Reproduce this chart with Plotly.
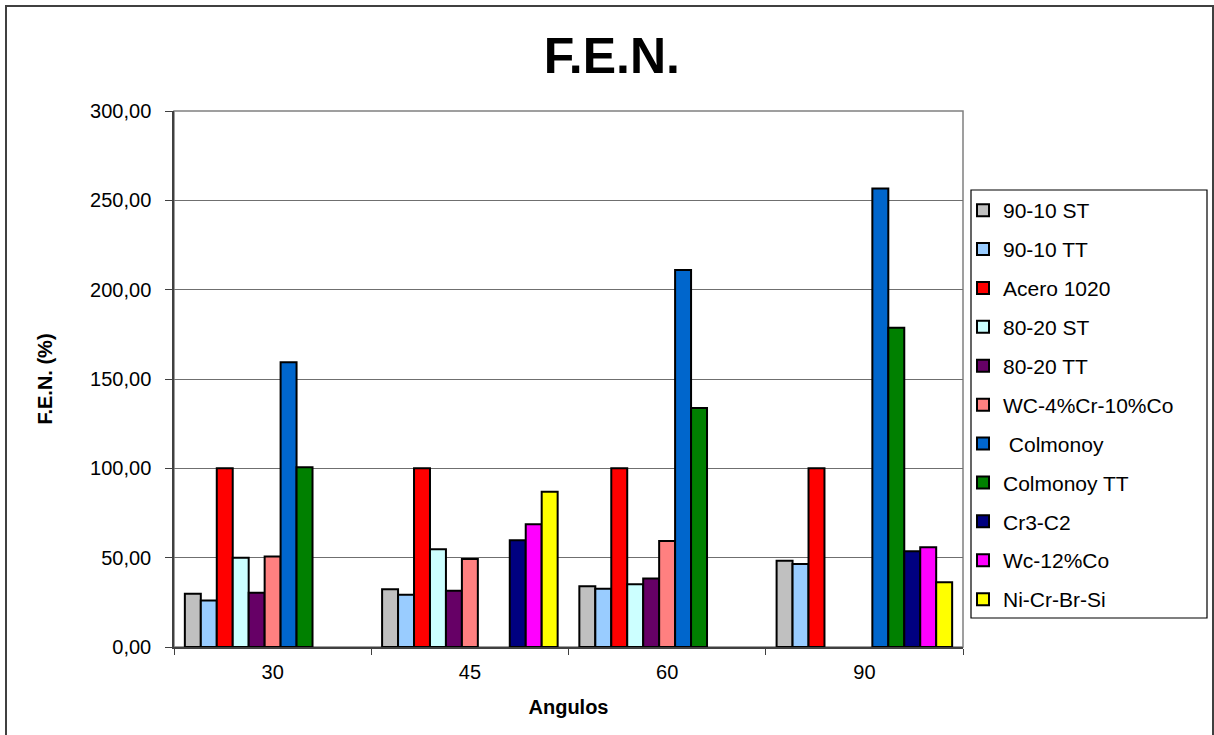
import plotly.graph_objects as go

# Angles tested (x categories)
angulos = ["30", "45", "60", "90"]

# F.E.N. (%) per material and angle; None = not measured
fen_90_10_st = [29.8, 32.3, 34.0, 48.3]
fen_90_10_tt = [26.0, 29.3, 32.6, 46.4]
fen_acero_1020 = [100.0, 100.0, 100.0, 100.0]
fen_80_20_st = [50.0, 54.7, 35.1, None]
fen_80_20_tt = [30.4, 31.5, 38.4, None]
fen_wc_4cr_10co = [50.6, 49.2, 59.3, None]
fen_colmonoy = [159.4, None, 211.0, 256.6]
fen_colmonoy_tt = [100.6, None, 133.8, 178.7]
fen_cr3_c2 = [None, 59.7, None, 53.6]
fen_wc_12co = [None, 68.7, None, 55.8]
fen_ni_cr_br_si = [None, 86.9, None, 36.3]

series = [
    ("90-10 ST", fen_90_10_st, "#C0C0C0"),
    ("90-10 TT", fen_90_10_tt, "#99CCFF"),
    ("Acero 1020", fen_acero_1020, "#FF0000"),
    ("80-20 ST", fen_80_20_st, "#CCFFFF"),
    ("80-20 TT", fen_80_20_tt, "#660066"),
    ("WC-4%Cr-10%Co", fen_wc_4cr_10co, "#FF8080"),
    (" Colmonoy", fen_colmonoy, "#0066CC"),
    ("Colmonoy TT", fen_colmonoy_tt, "#008000"),
    ("Cr3-C2", fen_cr3_c2, "#000080"),
    ("Wc-12%Co", fen_wc_12co, "#FF00FF"),
    ("Ni-Cr-Br-Si", fen_ni_cr_br_si, "#FFFF00"),
]

FONT = "Liberation Sans, Arial, sans-serif"

# page geometry (px)
W, H = 1214, 735
ML, MR, MT, MB = 174, 251, 111, 88
PW = W - ML - MR
PH = H - MT - MB


def px_x(p):
    return (p - ML) / PW


def px_y(p):
    return (H - MB - p) / PH


fig = go.Figure()
for i, (name, vals, color) in enumerate(series):
    fig.add_trace(go.Bar(
        x=angulos, y=vals, name=name, legendgroup=f"g{i}",
        marker=dict(color=color, line=dict(color="black", width=2)),
    ))

shapes = [
    # plot area frame
    dict(type="rect", xref="paper", yref="paper", x0=0, x1=1, y0=0, y1=1,
         line=dict(color="#808080", width=1.5), layer="below"),
    # outer chart border
    dict(type="rect", xref="paper", yref="paper",
         x0=px_x(6), x1=px_x(1213), y0=px_y(740), y1=px_y(6),
         line=dict(color="#404040", width=2)),
    # legend box
    dict(type="rect", xref="paper", yref="paper",
         x0=px_x(971), x1=px_x(1207), y0=px_y(618), y1=px_y(190),
         line=dict(color="black", width=1.2)),
]

fig.update_layout(
    width=W, height=H,
    margin=dict(l=ML, r=MR, t=MT, b=MB, pad=0),
    paper_bgcolor="white", plot_bgcolor="white",
    separators=",.",
    barmode="group", bargap=0.11, bargroupgap=0,
    font=dict(family=FONT, color="black", size=20),
    title=dict(text="<b>F.E.N.</b>", x=0.504, xanchor="center",
               y=1 - 55 / H, yanchor="middle", yref="container",
               font=dict(size=50, family=FONT, color="black")),
    xaxis=dict(
        type="category", showgrid=False,
        showline=True, linecolor="#404040", linewidth=1.5,
        ticks="outside", tickson="boundaries", ticklen=6, tickcolor="#404040",
        ticklabelstandoff=6,
        tickfont=dict(size=20, family=FONT),
        title=dict(text="<b>Angulos</b>", font=dict(size=20, family=FONT), standoff=18),
    ),
    yaxis=dict(
        range=[0, 300], tickvals=[0, 50, 100, 150, 200, 250, 300], tickformat=".2f",
        showgrid=True, gridcolor="#6f6f6f", gridwidth=1.3,
        showline=True, linecolor="#404040", linewidth=1.5,
        ticks="outside", ticklen=7, tickcolor="#404040", ticklabelstandoff=10,
        tickfont=dict(size=20, family=FONT), zeroline=False,
        title=dict(text="<b>F.E.N. (%)</b>", font=dict(size=20, family=FONT), standoff=32),
    ),
    legend=dict(
        x=px_x(963), y=px_y(190), xanchor="left", yanchor="top",
        bgcolor="rgba(0,0,0,0)", borderwidth=0,
        font=dict(size=21, family=FONT), tracegroupgap=8.6,
        traceorder="grouped", itemwidth=30,
    ),
    shapes=shapes,
)

fig.write_html("out.html")
